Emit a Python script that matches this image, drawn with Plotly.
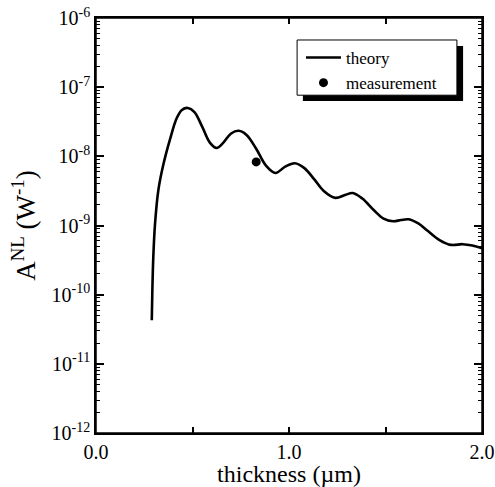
import plotly.graph_objects as go

# theory curve
thickness = [0.289, 0.292, 0.297, 0.306, 0.323, 0.349, 0.383, 0.418, 0.445, 0.475,
             0.51, 0.55, 0.59, 0.625, 0.66, 0.70, 0.74, 0.78, 0.83, 0.88,
             0.93, 0.98, 1.03, 1.08, 1.13, 1.18, 1.24, 1.29, 1.33, 1.38,
             1.44, 1.49, 1.54, 1.58, 1.62, 1.67, 1.72, 1.78, 1.84, 1.90,
             1.95, 2.00]
anl_theory = [4.27e-11, 1.17e-10, 3.55e-10, 1.07e-9, 3.24e-9, 7.6e-9, 1.74e-8, 3.55e-8, 4.68e-8, 5.01e-8,
              4.37e-8, 2.69e-8, 1.58e-8, 1.32e-8, 1.58e-8, 2.14e-8, 2.34e-8, 2.04e-8, 1.29e-8, 7.4e-9,
              5.75e-9, 7.08e-9, 7.94e-9, 6.76e-9, 4.68e-9, 3.16e-9, 2.51e-9, 2.75e-9, 2.95e-9, 2.45e-9,
              1.66e-9, 1.26e-9, 1.15e-9, 1.20e-9, 1.23e-9, 1.07e-9, 8.3e-10, 6.17e-10, 5.25e-10, 5.37e-10,
              5.13e-10, 4.68e-10]

# measurement
meas_thickness = [0.83]
meas_anl = [8.3e-9]

# ticks
x_tickvals = [0.0, 0.5, 1.0, 1.5, 2.0]
x_ticktext = ["0.0", "", "1.0", "", "2.0"]
y_exponents = [-12, -11, -10, -9, -8, -7, -6]
y_tickvals = [10.0 ** e for e in y_exponents]
y_ticktext = ["10<sup>%d</sup>" % e for e in y_exponents]
y_minor = [m * 10.0 ** e for e in y_exponents[:-1] for m in range(2, 10)]

SERIF = "Liberation Serif"

fig = go.Figure()
fig.add_trace(go.Scatter(x=thickness, y=anl_theory, mode="lines", name="theory",
                         line=dict(color="black", width=2.6, shape="spline", smoothing=1.0)))
fig.add_trace(go.Scatter(x=meas_thickness, y=meas_anl, mode="markers", name="measurement",
                         marker=dict(color="black", size=9)))

# plot frame
fig.add_shape(type="rect", xref="paper", yref="paper", x0=0, x1=1, y0=0, y1=1,
              fillcolor="rgba(0,0,0,0)", line=dict(color="black", width=1.5), layer="above")
# legend frame with drop shadow
fig.add_shape(type="rect", xref="paper", yref="paper",
              x0=0.536, x1=0.951, y0=0.80, y1=0.9325,
              fillcolor="black", line=dict(width=0), layer="above")
fig.add_shape(type="rect", xref="paper", yref="paper",
              x0=0.521, x1=0.935, y0=0.814, y1=0.947,
              fillcolor="white", line=dict(color="black", width=1), layer="above")

fig.update_layout(
    width=495, height=487,
    margin=dict(l=96, r=13, t=18, b=54, autoexpand=False),
    paper_bgcolor="white", plot_bgcolor="white",
    font=dict(family=SERIF, color="black", size=20),
    showlegend=True,
    legend=dict(x=0.531, y=0.947, xanchor="left", yanchor="top",
                bgcolor="rgba(0,0,0,0)", borderwidth=0,
                font=dict(family=SERIF, size=17), itemwidth=35,
                tracegroupgap=0),
)
fig.update_xaxes(range=[0, 2], tickmode="array", tickvals=x_tickvals, ticktext=x_ticktext,
                 ticks="inside", ticklen=6, tickwidth=2, tickcolor="black",
                 showline=True, linecolor="black", linewidth=1.5, mirror="ticks",
                 showgrid=False, zeroline=False, automargin=False,
                 tickfont=dict(family=SERIF, size=20),
                 title=dict(text="thickness (\u00b5m)", font=dict(family=SERIF, size=24), standoff=6))
fig.update_yaxes(type="log", range=[-12, -6], tickmode="array", tickvals=y_tickvals, ticktext=y_ticktext,
                 ticks="inside", ticklen=8, tickwidth=2, tickcolor="black",
                 minor=dict(tickmode="array", tickvals=y_minor, ticks="inside", ticklen=4,
                            tickwidth=1, tickcolor="black", showgrid=False),
                 showline=True, linecolor="black", linewidth=1.5, mirror="ticks",
                 showgrid=False, zeroline=False, automargin=False,
                 tickfont=dict(family=SERIF, size=20),
                 title=dict(text="A<sup>NL</sup> (W<sup>-1</sup>)", font=dict(family=SERIF, size=27), standoff=8))

fig.write_html("out.html", config={"displayModeBar": False},
               post_script="document.body.style.margin='0px';")
